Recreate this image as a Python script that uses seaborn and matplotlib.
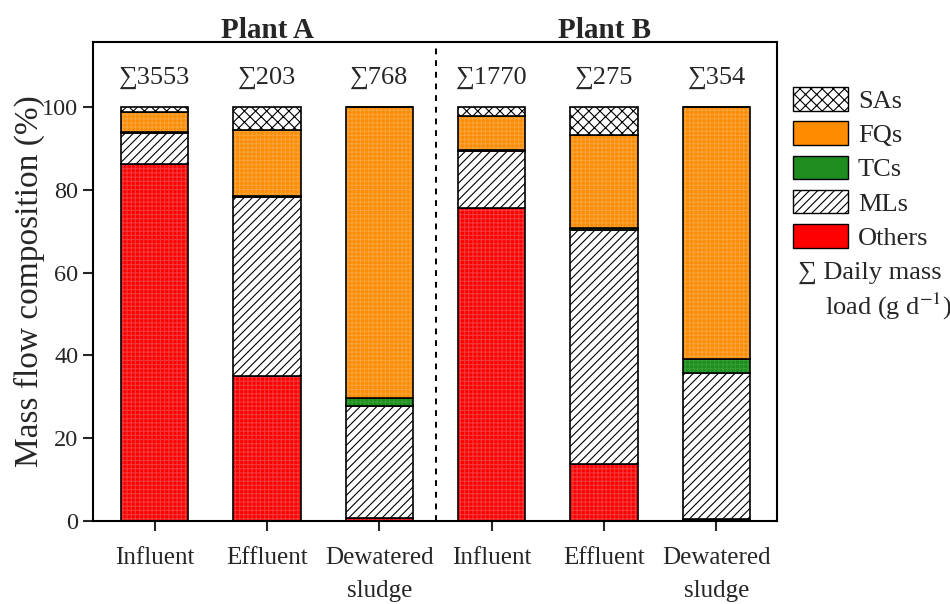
import matplotlib
matplotlib.use("Agg")
import matplotlib.pyplot as plt
import matplotlib.transforms as mtransforms
from matplotlib.patches import Patch
import numpy as np
import seaborn as sns

# Samples (unique ids), their tick labels and daily mass loads (g/d)
samples = ["A-Influent", "A-Effluent", "A-Sludge", "B-Influent", "B-Effluent", "B-Sludge"]
tick_labels = ["Influent", "Effluent", "Dewatered\nsludge",
               "Influent", "Effluent", "Dewatered\nsludge"]
plants = ["Plant A", "Plant B"]
daily_load = [3553, 203, 768, 1770, 275, 354]

# Mass flow composition (%) per antibiotic class
others = [86.2, 35.0, 0.7, 75.6, 13.8, 0.6]
mls = [7.4, 43.3, 27.1, 13.7, 56.4, 35.1]
tcs = [0.3, 0.3, 1.9, 0.4, 0.5, 3.4]
fqs = [5.0, 15.8, 70.2, 8.2, 22.5, 60.8]
sas = [1.1, 5.6, 0.1, 2.1, 6.8, 0.1]

sns.set_style("ticks")
plt.rcParams["font.family"] = ["Liberation Serif", "DejaVu Serif"]
plt.rcParams["mathtext.fontset"] = "stix"
plt.rcParams["hatch.linewidth"] = 0.8
plt.rcParams["axes.linewidth"] = 1.5

fig = plt.figure(figsize=(9.5, 6.04), dpi=100)
ax = fig.add_axes([0.0979, 0.1374, 0.8179 - 0.0979, 0.9305 - 0.1374])

# (name, values, face colour, hatch, hatch colour) from bottom to top
layers = [
    ("Others", others, "#FF0000", "++++", "#F03A3A"),
    ("MLs", mls, "white", "////", "black"),
    ("TCs", tcs, "#1E8C1E", "++++", "#33A033"),
    ("FQs", fqs, "#FF8C00", "++++", "#F5A33A"),
    ("SAs", sas, "white", "xxx", "black"),
]

bottom = np.zeros(len(samples))
for name, vals, face, hatch, hcol in layers:
    vals = np.asarray(vals, dtype=float)
    sns.barplot(x=samples, y=vals, order=samples, errorbar=None, width=0.6,
                color=face, saturation=1, bottom=bottom, facecolor=face,
                edgecolor=hcol, hatch=hatch, linewidth=0, ax=ax)
    sns.barplot(x=samples, y=vals, order=samples, errorbar=None, width=0.6,
                color="black", saturation=1, bottom=bottom, facecolor="none",
                edgecolor="black", linewidth=1.2, ax=ax)
    bottom = bottom + vals

ax.set_xlim(-0.55, 5.54)
ax.set_ylim(0, 115.7)
ax.set_yticks([0, 20, 40, 60, 80, 100])
ax.set_xticks(range(len(samples)))
ax.set_xticklabels(tick_labels, fontsize=18, linespacing=1.6)
ax.tick_params(axis="y", labelsize=17.5, direction="out", length=7, width=1.5)
ax.tick_params(axis="x", direction="out", length=7, width=1.5, pad=12)
ax.set_xlabel("")
ax.set_ylabel("Mass flow composition (%)", fontsize=24, labelpad=-2)
for s in ax.spines.values():
    s.set_visible(True)
    s.set_linewidth(1.5)
    s.set_color("black")

# divider between the two plants
ax.axvline(2.5, color="black", linestyle=(0, (3, 3)), linewidth=1.4)

# daily mass loads above the bars
for i, v in enumerate(daily_load):
    ax.text(i, 107, f"\u2211{v}", ha="center", va="center", fontsize=19)

# plant titles
trans = mtransforms.blended_transform_factory(ax.transData, ax.transAxes)
for xpos, name in zip([1, 4], plants):
    ax.text(xpos, 1.025, name, transform=trans, ha="center", va="center",
            fontsize=21, fontweight="bold")

# legend
handles = [
    Patch(facecolor="white", edgecolor="black", hatch="xxx", linewidth=1, label="SAs"),
    Patch(facecolor="#FF8C00", edgecolor="black", linewidth=1, label="FQs"),
    Patch(facecolor="#1E8C1E", edgecolor="black", linewidth=1, label="TCs"),
    Patch(facecolor="white", edgecolor="black", hatch="////", linewidth=1, label="MLs"),
    Patch(facecolor="#FF0000", edgecolor="black", linewidth=1, label="Others"),
]
fig.legend(handles=handles, loc="upper left", bbox_to_anchor=(793 / 950, 1 - 87 / 604),
           frameon=False, fontsize=19, handlelength=2.08, handleheight=1.0,
           handletextpad=0.38, labelspacing=0.32, borderpad=0, borderaxespad=0)
fig.text(798 / 950, 1 - 273 / 604, "\u2211 Daily mass", fontsize=19, ha="left", va="center")
fig.text(825 / 950, 1 - 306 / 604, r"load (g d$^{-1}$)", fontsize=19, ha="left", va="center")

fig.savefig("out.png", dpi=100)
